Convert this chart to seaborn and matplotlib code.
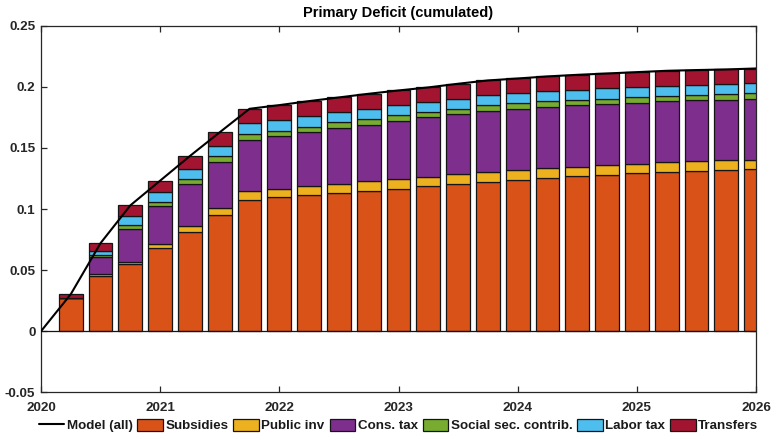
import numpy as np
import pandas as pd
import matplotlib
matplotlib.use("Agg")
import matplotlib.pyplot as plt
from matplotlib.lines import Line2D
from matplotlib.patches import Patch
import seaborn as sns

# Quarterly dates (cumulated contributions to the primary deficit)
quarters = [2020.25, 2020.5, 2020.75, 2021.0, 2021.25, 2021.5, 2021.75, 2022.0,
            2022.25, 2022.5, 2022.75, 2023.0, 2023.25, 2023.5, 2023.75, 2024.0,
            2024.25, 2024.5, 2024.75, 2025.0, 2025.25, 2025.5, 2025.75, 2026.0]

subsidies = [0.0268, 0.0453, 0.0547, 0.0678, 0.0811, 0.0948, 0.1076, 0.1096,
             0.1112, 0.1128, 0.1148, 0.1167, 0.1186, 0.1205, 0.1224, 0.1240,
             0.1257, 0.1268, 0.1281, 0.1293, 0.1303, 0.1311, 0.1317, 0.1325]
public_inv = [0.0000, 0.0012, 0.0021, 0.0035, 0.0050, 0.0057, 0.0072, 0.0071,
              0.0074, 0.0080, 0.0079, 0.0079, 0.0079, 0.0079, 0.0077, 0.0080,
              0.0077, 0.0079, 0.0080, 0.0079, 0.0080, 0.0080, 0.0082, 0.0079]
cons_tax = [0.0000, 0.0144, 0.0268, 0.0309, 0.0344, 0.0383, 0.0420, 0.0431,
            0.0442, 0.0453, 0.0464, 0.0473, 0.0484, 0.0492, 0.0502, 0.0497,
            0.0500, 0.0500, 0.0497, 0.0497, 0.0497, 0.0497, 0.0497, 0.0498]
social_sec = [0.0000, 0.0015, 0.0030, 0.0033, 0.0038, 0.0044, 0.0044, 0.0044,
              0.0047, 0.0047, 0.0047, 0.0049, 0.0043, 0.0044, 0.0044, 0.0049,
              0.0046, 0.0047, 0.0046, 0.0047, 0.0046, 0.0046, 0.0047, 0.0046]
labor_tax = [0.0000, 0.0034, 0.0079, 0.0084, 0.0085, 0.0084, 0.0088, 0.0085,
             0.0085, 0.0085, 0.0082, 0.0082, 0.0082, 0.0082, 0.0085, 0.0082,
             0.0082, 0.0082, 0.0085, 0.0081, 0.0082, 0.0082, 0.0082, 0.0082]
transfers = [0.0035, 0.0063, 0.0085, 0.0093, 0.0106, 0.0112, 0.0120, 0.0123,
             0.0123, 0.0120, 0.0123, 0.0120, 0.0121, 0.0123, 0.0120, 0.0120,
             0.0123, 0.0123, 0.0120, 0.0123, 0.0123, 0.0121, 0.0117, 0.0118]

# Model total, starting from zero at the beginning of 2020
model_dates = [2020.0] + quarters
model_all = [0.0, 0.0303, 0.0721, 0.1030, 0.1232, 0.1434, 0.1628, 0.1820, 0.1850,
             0.1883, 0.1913, 0.1943, 0.1970, 0.1995, 0.2025, 0.2052, 0.2068,
             0.2085, 0.2098, 0.2109, 0.2120, 0.2131, 0.2137, 0.2142, 0.2150]

series = [
    ("Subsidies", subsidies, "#D95319"),
    ("Public inv", public_inv, "#EDB120"),
    ("Cons. tax", cons_tax, "#7E2F8E"),
    ("Social sec. contrib.", social_sec, "#77AC30"),
    ("Labor tax", labor_tax, "#4DBEEE"),
    ("Transfers", transfers, "#A2142F"),
]

sns.set_theme(style="white")
plt.rcParams["font.family"] = ["Liberation Sans", "DejaVu Sans"]
plt.rcParams["font.weight"] = "bold"

W, H = 772, 433
fig = plt.figure(figsize=(W / 100, H / 100), dpi=100)
ax = fig.add_axes([41 / W, 1 - 392.3 / H, (756 - 41) / W, (392.3 - 25.7) / H])

# Stacked bars, one seaborn call per component on top of the previous ones
bottom = np.zeros(len(quarters))
for name, vals, col in series:
    df = pd.DataFrame({"date": quarters, "value": vals})
    sns.barplot(data=df, x="date", y="value", native_scale=True, width=0.8,
                color=col, saturation=1, errorbar=None, bottom=bottom,
                edgecolor="#151515", linewidth=0.9, ax=ax, zorder=2)
    bottom = bottom + np.asarray(vals)

ax.axhline(0, color="#151515", lw=0.9, zorder=2.5)
sns.lineplot(x=model_dates, y=model_all, color="black", lw=1.5, ax=ax, zorder=4)

ax.set_xlim(2020, 2026)
ax.set_ylim(-0.05, 0.25)
ax.set_xticks(range(2020, 2027))
ax.set_xticklabels([str(y) for y in range(2020, 2027)])
yt = [-0.05, 0, 0.05, 0.1, 0.15, 0.2, 0.25]
ax.set_yticks(yt)
ax.set_yticklabels(["-0.05", "0", "0.05", "0.1", "0.15", "0.2", "0.25"])
ax.set_xlabel("")
ax.set_ylabel("")

for s in ax.spines.values():
    s.set_visible(True)
    s.set_color("#262626")
    s.set_linewidth(0.9)
ax.tick_params(axis="both", which="both", direction="in", length=4, width=0.9,
               color="#262626", labelsize=9.7, labelcolor="#262626",
               top=True, right=True, bottom=True, left=True)
ax.tick_params(axis="x", pad=7)
ax.tick_params(axis="y", pad=4)
for lab in ax.get_xticklabels() + ax.get_yticklabels():
    lab.set_fontweight("bold")

ax.set_title("Primary Deficit (cumulated)", fontsize=10.5, fontweight="bold",
             color="black", pad=6)

handles = [Line2D([0], [0], color="black", lw=1.5)]
labels = ["Model (all)"]
for name, vals, col in series:
    handles.append(Patch(facecolor=col, edgecolor="#151515", linewidth=0.9))
    labels.append(name)
leg = fig.legend(handles, labels, loc="center", bbox_to_anchor=(398.5 / W, 1 - 425.5 / H),
                 ncol=7, frameon=False, fontsize=9.6, handlelength=1.9,
                 handleheight=1.0, handletextpad=0.2, columnspacing=0.37,
                 borderaxespad=0, borderpad=0)
for t in leg.get_texts():
    t.set_fontweight("bold")
    t.set_color("#1a1a1a")

fig.savefig("out.png", dpi=100, facecolor="white")
